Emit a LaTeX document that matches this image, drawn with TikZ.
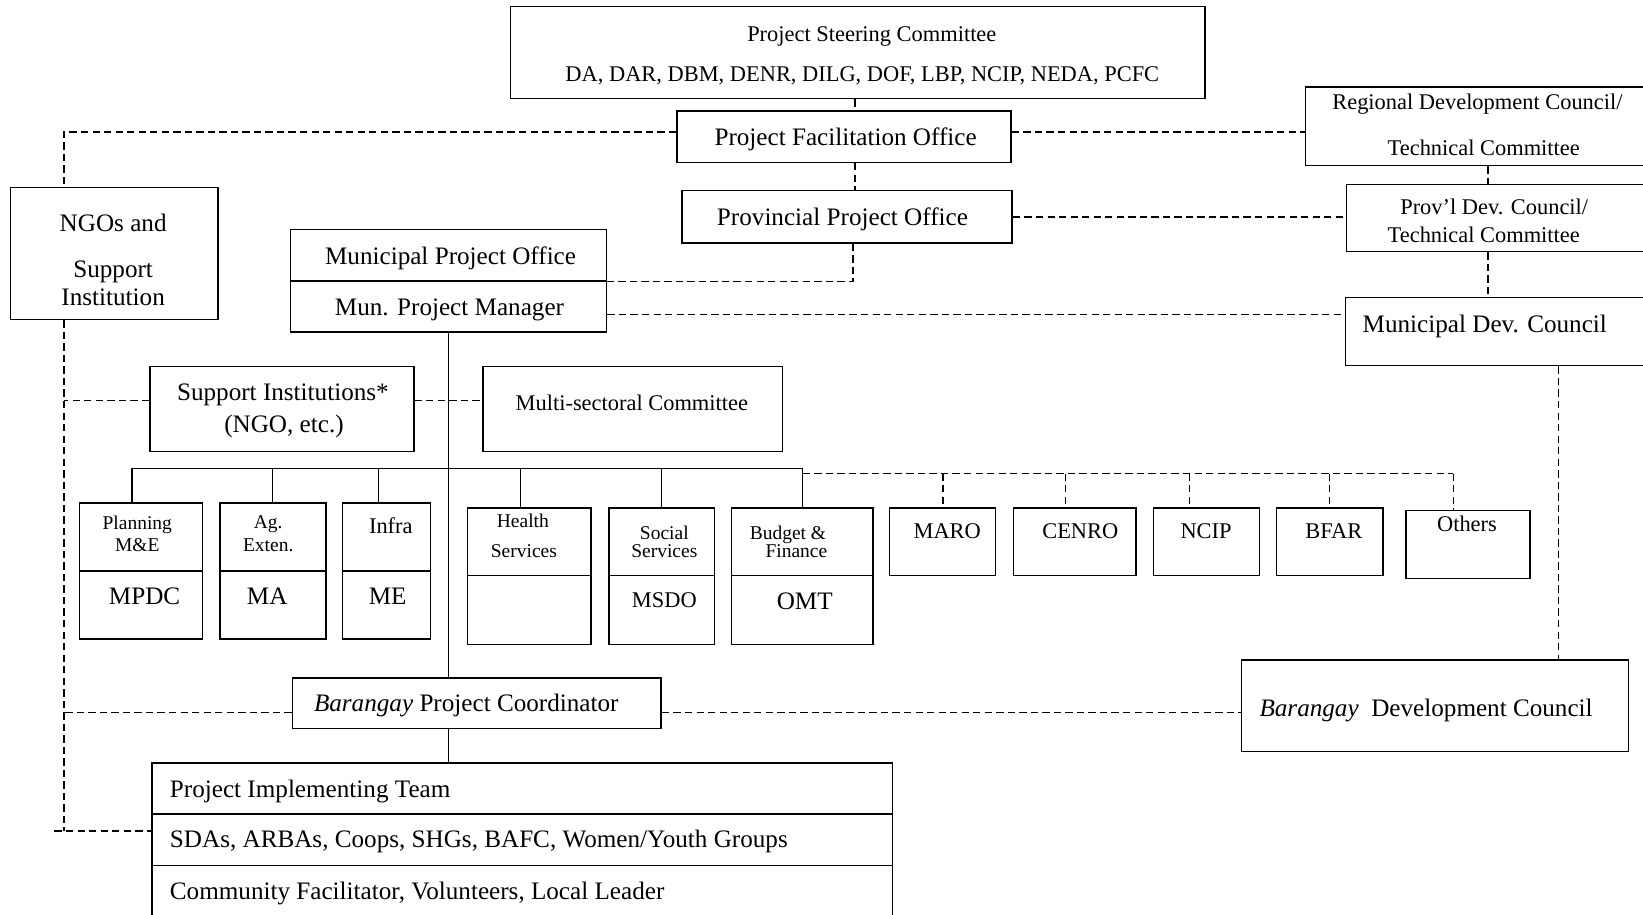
\documentclass[tikz,border=0pt]{standalone}
\usepackage{fontspec}
\setmainfont{Liberation Serif}
\usetikzlibrary{fit,calc}
\newcommand\fsL{\fontsize{24}{28}\selectfont}
\newcommand\fsM{\fontsize{21.4}{25}\selectfont}
\newcommand\fsS{\fontsize{18.6}{22}\selectfont}
\begin{document}
\begin{tikzpicture}[x=1pt,y=-1pt,
 bx/.style={draw,line width=1.4pt,inner sep=0pt},
 tL/.style={font=\fsL,inner sep=0pt,text height=16.8pt,text depth=4.8pt,yshift=-2pt},
 tM/.style={font=\fsM,inner sep=0pt,text height=15pt,text depth=4.3pt,yshift=-2pt},
 tS/.style={font=\fsS,inner sep=0pt,text height=13pt,text depth=3.7pt,yshift=-2pt},
 sol/.style={line width=1.2pt},
 dsh/.style={line width=1.2pt,dash pattern=on 7pt off 4pt}]
\useasboundingbox (0,0) rectangle (1568,873);
\fill[white] (0,0) rectangle (1568,873);
% boxes
\node[bx, fit={(487,6) (1150,94)}] (psc) {};
\node[bx, fit={(646,106) (965,155)}] (pfo) {};
\node[bx, fit={(651,182) (966,232)}] (ppo) {};
\node[bx, fit={(1246,83) (1575,158)}] (rdc) {};
\node[bx, fit={(1285,176) (1575,240)}] (pdc) {};
\node[bx, fit={(10,179) (208,305)}] (ngo) {};
\node[bx, fit={(277,219) (579,268)}] (mpo) {};
\node[bx, fit={(277,268) (579,317)}] (mpm) {};
\node[bx, fit={(1284,284) (1575,349)}] (mdc) {};
\node[bx, fit={(143,350) (395,431)}] (sup) {};
\node[bx, fit={(461,350) (747,431)}] (msc) {};
\node[bx, fit={(76,480) (193,545)}] (pl1) {};
\node[bx, fit={(76,545) (193,610)}] (pl2) {};
\node[bx, fit={(210,480) (311,545)}] (ag1) {};
\node[bx, fit={(210,545) (311,610)}] (ag2) {};
\node[bx, fit={(327,480) (411,545)}] (in1) {};
\node[bx, fit={(327,545) (411,610)}] (in2) {};
\node[bx, fit={(446,485) (564,549)}] (he1) {};
\node[bx, fit={(446,549) (564,615)}] (he2) {};
\node[bx, fit={(581,485) (682,549)}] (so1) {};
\node[bx, fit={(581,549) (682,615)}] (so2) {};
\node[bx, fit={(698,485) (833,549)}] (bu1) {};
\node[bx, fit={(698,549) (833,615)}] (bu2) {};
\node[bx, fit={(849,485) (950,549)}] (maro) {};
\node[bx, fit={(967,485) (1084,549)}] (cenro) {};
\node[bx, fit={(1101,485) (1202,549)}] (ncip) {};
\node[bx, fit={(1218,485) (1320,549)}] (bfar) {};
\node[bx, fit={(1342,487) (1460,552)}] (oth) {};
\node[bx, fit={(279,647) (631,695)}] (bpc) {};
\node[bx, fit={(1185,630) (1554,717)}] (bdc) {};
\node[bx, fit={(145,728) (852,777)}] (pit1) {};
\node[bx, fit={(145,777) (852,826)}] (pit2) {};
\node[bx, fit={(145,826) (852,880)}] (pit3) {};
% texts
\node[tM] (t1) at (832,32) {Project Steering Committee};
\node[tM] (t2) at (823,70) {DA, DAR, DBM, DENR, DILG, DOF, LBP, NCIP, NEDA, PCFC};
\node[tL] (t3) at (807,131) {Project Facilitation Office};
\node[tL] (t4) at (804,207) {Provincial Project Office};
\node[tM] (t5) at (1410,97) {Regional Development Council/};
\node[tM] (t6) at (1416,141) {Technical Committee};
\node[tM] (t7) at (1426,197) {Prov’l Dev. Council/};
\node[tM] (t8) at (1416,224) {Technical Committee};
\node[tL] (t9) at (108,213) {NGOs and};
\node[tL] (t10) at (108,257) {Support};
\node[tL] (t11) at (108,284) {Institution};
\node[tL] (t12) at (430,244) {Municipal Project Office};
\node[tL] (t13) at (429,293) {Mun. Project Manager};
\node[tL] (t14) at (1417,309) {Municipal Dev. Council};
\node[tL] (t15) at (270,374) {Support Institutions*};
\node[tL] (t16) at (271,405) {(NGO, etc.)};
\node[tM] (t17) at (603,384) {Multi-sectoral Committee};
\node[tS] (t18) at (131,499) {Planning};
\node[tS] (t19) at (131,520) {M\&E};
\node[tL] (t20) at (138,569) {MPDC};
\node[tS] (t21) at (256,498) {Ag.};
\node[tS] (t22) at (256,520) {Exten.};
\node[tL] (t23) at (255,569) {MA};
\node[tM] (t24) at (373,502) {Infra};
\node[tL] (t25) at (370,569) {ME};
\node[tS] (t26) at (499,497) {Health};
\node[tS] (t27) at (500,525) {Services};
\node[tS] (t28) at (634,508) {Social};
\node[tS] (t29) at (634,525) {Services};
\node[tM] (t30) at (634,572) {MSDO};
\node[tS] (t31) at (752,508) {Budget \&};
\node[tS] (t32) at (760,525) {Finance};
\node[tL] (t33) at (768,574) {OMT};
\node[tM] (t34) at (904,507) {MARO};
\node[tM] (t35) at (1031,507) {CENRO};
\node[tM] (t36) at (1151,507) {NCIP};
\node[tM] (t37) at (1273,507) {BFAR};
\node[tM] (t38) at (1400,500) {Others};
\node[tL] (t39) at (445,671) {\textit{Barangay} Project Coordinator};
\node[tL] (t40) at (1361,676) {\textit{Barangay}\hspace{12pt}Development Council};
\node[tL,anchor=west] (t41) at (162,753) {Project Implementing Team};
\node[tL,anchor=west] (t42) at (162,801) {SDAs, ARBAs, Coops, SHGs, BAFC, Women/Youth Groups};
\node[tL,anchor=west] (t43) at (162,850) {Community Facilitator, Volunteers, Local Leader};
% solid bus
\coordinate (bL) at (126,447);
\coordinate (bR) at (766,447);
\draw[sol] (bL) -- (bR);
\foreach \x/\n in {126/pl1,260/ag1,361/in1,497/he1,631/so1,766/bu1}{
  \coordinate (d-\n) at (\x,447);
  \draw[sol] (d-\n) -- (d-\n |- \n.north);
}
% dashed bus
\coordinate (eL) at (766,452);
\coordinate (eR) at (1387,452);
\draw[dsh] (eL) -- (eR);
\foreach \x/\n in {900/maro,1017/cenro,1135/ncip,1269/bfar,1387/oth}{
  \coordinate (e-\n) at (\x,452);
  \draw[dsh] (e-\n) -- (e-\n |- \n.north);
}
% trunk
\draw[sol] (mpm.south) -- (mpm.south |- bpc.north);
\draw[sol] (mpm.south |- bpc.south) -- (mpm.south |- pit1.north);
% top chain
\coordinate (cx) at (816,0);
\draw[dsh] (cx |- psc.south) -- (cx |- pfo.north);
\draw[dsh] (cx |- pfo.south) -- (cx |- ppo.north);
\coordinate (px) at (814,0);
\draw[dsh] (px |- ppo.south) |- (mpo.south east);
% left bus
\coordinate (lx) at (61,0);
\coordinate (pW) at ([yshift=4.5pt]pfo.west);
\draw[dsh] (pW) -| (lx |- ngo.north);
\coordinate (lb) at (61,793);
\coordinate (lbs) at (52,793);
\draw[dsh] (lx |- ngo.south) -- (lb);
\draw[dsh] (lbs) -- (lbs -| pit2.west);
\coordinate (sW) at ([yshift=8.5pt]sup.west);
\draw[dsh] (sW) -- (sW -| lx);
\coordinate (sE) at ([yshift=8.5pt]sup.east);
\draw[dsh] (sE) -- (sE -| msc.west);
\coordinate (bW) at ([yshift=-9pt]bpc.west);
\draw[dsh] (bW) -- (bW -| lx);
% right side
\coordinate (pE) at ([yshift=4.5pt]pfo.east);
\draw[dsh] (pE) -- (pE -| rdc.west);
\draw[dsh] (ppo.east) -- (ppo.east -| pdc.west);
\coordinate (rx) at (1420,0);
\draw[dsh] (rx |- rdc.south) -- (rx |- pdc.north);
\draw[dsh] (rx |- pdc.south) -- (rx |- mdc.north);
\coordinate (mE) at ([yshift=-7.5pt]mpm.east);
\draw[dsh] (mE) -- (mE -| mdc.west);
\coordinate (mx) at (1487,0);
\draw[dsh] (mx |- mdc.south) -- (mx |- bdc.north);
\coordinate (bE) at ([yshift=-9pt]bpc.east);
\draw[dsh] (bE) -- (bE -| bdc.west);
\end{tikzpicture}
\end{document}
